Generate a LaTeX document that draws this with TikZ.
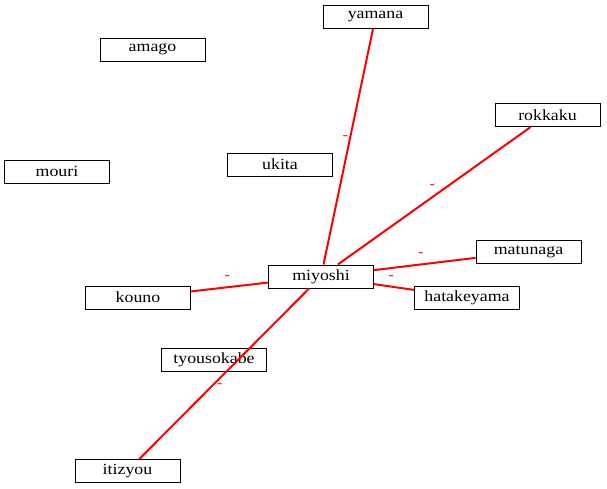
\documentclass[tikz,border=0pt]{standalone}
\usepackage{fontspec}
\newfontfamily\clanfont[FakeStretch=1.15]{Liberation Serif}
\usetikzlibrary{positioning}
\tikzset{
	clan/.style={draw, line width=0.9pt, minimum width=105pt, minimum height=23pt,
		inner sep=0pt, font=\clanfont\fontsize{15.5}{16}\selectfont},
	rel/.style={draw=red, line width=2pt},
	lbl/.style={text=red, inner sep=0pt, font=\clanfont\fontsize{14}{14}\selectfont}
}
\begin{document}
\begin{tikzpicture}[x=1pt,y=-1pt]
	\useasboundingbox (0,0) rectangle (607,489);

	\node[clan] (yamana) at (375.5,17) {yamana};
	\node[clan] (amago) at (152.5,49.5) {amago};
	\node[clan] (rokkaku) at (547.5,115) {rokkaku};
	\node[clan] (mouri) at (57,171.5) {mouri};
	\node[clan] (ukita) at (280,164.5) {ukita};
	\node[clan] (matunaga) at (528.5,251.5) {matunaga};
	\node[clan] (miyoshi) at (321,276.5) {miyoshi};
	\node[clan] (kouno) at (138,297.5) {kouno};
	\node[clan] (hatakeyama) at (467,297.5) {hatakeyama};
	\node[clan] (tyousokabe) at (214,360) {tyousokabe};
	\node[clan] (itizyou) at (127.5,471) {itizyou};

	\draw[rel] (miyoshi) -- (yamana) node[lbl, pos=0.54, xshift=-5pt] (l-yamana) {-};
	\draw[rel] (miyoshi) -- (rokkaku) node[lbl, pos=0.49, yshift=11pt] (l-rokkaku) {-};
	\draw[rel] (kouno) -- (miyoshi) node[lbl, pos=0.47, yshift=10pt] (l-kouno) {-};
	\draw[rel] (miyoshi) -- (matunaga) node[lbl, pos=0.46, yshift=9.5pt] (l-matunaga) {-};
	\draw[rel] (miyoshi) -- (hatakeyama) node[lbl, pos=0.43, yshift=9.5pt] (l-hatakeyama) {-};
	\draw[rel] (miyoshi) -- (itizyou) node[lbl, pos=0.567, xshift=7pt] (l-itizyou) {-};
\end{tikzpicture}
\end{document}
